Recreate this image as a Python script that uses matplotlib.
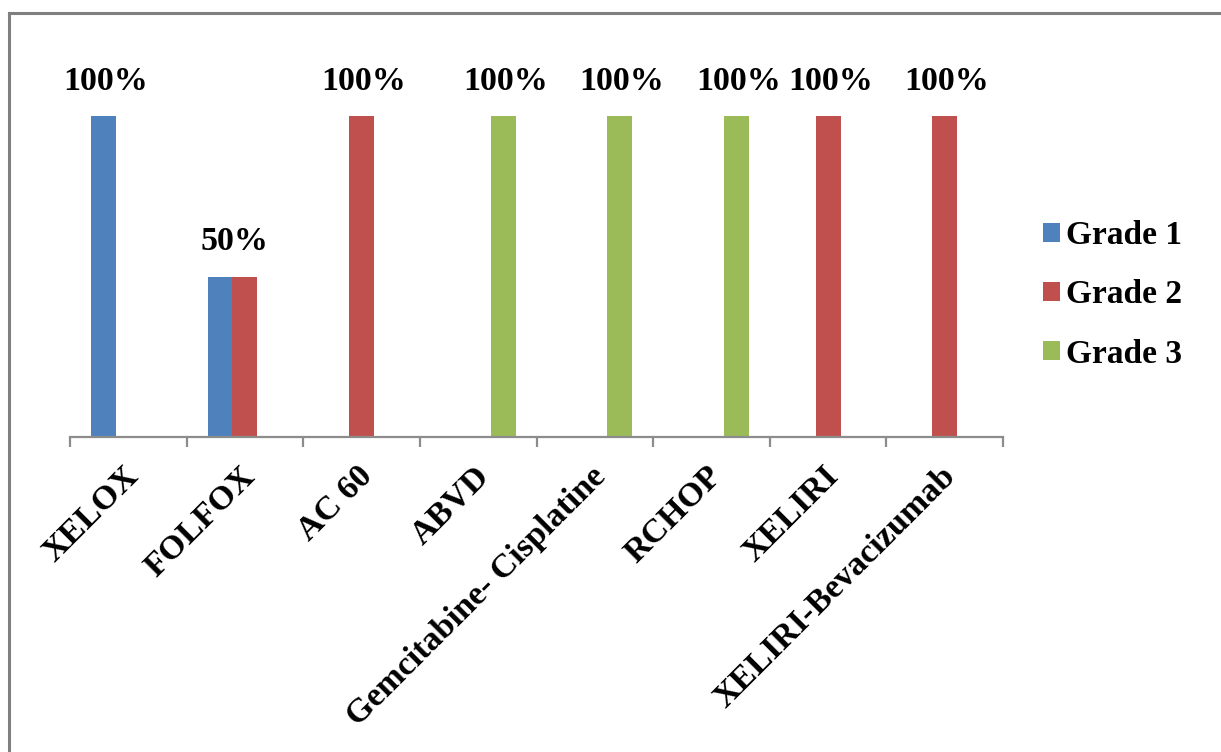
import matplotlib
matplotlib.use("Agg")
import matplotlib.pyplot as plt
from matplotlib.patches import Patch
from matplotlib.lines import Line2D
import numpy as np

plt.rcParams['font.family'] = ['Liberation Serif', 'DejaVu Serif']
plt.rcParams['font.weight'] = 'bold'

regimens = ["XELOX", "FOLFOX", "AC 60", "ABVD", "Gemcitabine- Cisplatine",
            "RCHOP", "XELIRI", "XELIRI-Bevacizumab"]
grade1 = [100, 50, 0, 0, 0, 0, 0, 0]
grade2 = [0, 50, 100, 0, 0, 0, 100, 100]
grade3 = [0, 0, 0, 100, 100, 100, 0, 0]
series_names = ["Grade 1", "Grade 2", "Grade 3"]
colors = ["#4F81BD", "#C0504D", "#9BBB59"]

W, H = 1221, 752
fig = plt.figure(figsize=(W / 100, H / 100), dpi=100)
ax = fig.add_axes([70 / W, (H - 437) / H, 933 / W, 321 / H])

x = np.arange(len(regimens))
bw = 0.214
offsets = [-bw, 0, bw]
series = [grade1, grade2, grade3]
for vals, off, col, name in zip(series, offsets, colors, series_names):
    ax.bar(x + off, vals, width=bw, color=col, label=name, zorder=2)

# one value label per category, centred over its non-zero bars
for i in range(len(regimens)):
    pos = [x[i] + off for vals, off in zip(series, offsets) if vals[i] > 0]
    vals = [vals[i] for vals in series if vals[i] > 0]
    if not pos:
        continue
    ax.text(np.mean(pos) + 0.02, max(vals) + 6, f"{max(vals)}%",
            ha="center", va="bottom", fontsize=24.5, fontweight="bold",
            clip_on=False)

ax.set_xlim(-0.5, len(regimens) - 0.5)
ax.set_ylim(0, 100)
ax.set_yticks([])
for s in ["top", "right", "left"]:
    ax.spines[s].set_visible(False)
ax.spines["bottom"].set_color("#8C8C8C")
ax.spines["bottom"].set_linewidth(1.6)

ax.set_xticks(np.arange(-0.5, len(regimens)), labels=[])
ax.tick_params(axis="x", which="major", direction="out", length=7.5,
               width=1.6, color="#8C8C8C")
ax.set_xticks(x + 0.05, minor=True)
ax.set_xticklabels(regimens, minor=True, rotation=45, ha="right",
                   va="center", rotation_mode="anchor",
                   fontsize=24.5, fontweight="bold")
ax.tick_params(axis="x", which="minor", length=0, pad=25)

handles = [Patch(facecolor=c, edgecolor="none") for c in colors]
fig.legend(handles, series_names, loc="upper left",
           bbox_to_anchor=(1013 / W, 1 - 190 / H), frameon=False,
           handlelength=0.5, handleheight=0.5,
           handletextpad=0.2, labelspacing=0.85,
           prop={"weight": "bold", "size": 24})

# frame edge along the top and left of the canvas
fig.add_artist(Line2D([9 / W, 1], [1 - 13 / H, 1 - 13 / H],
                      transform=fig.transFigure, color="#7F7F7F", lw=2.2))
fig.add_artist(Line2D([9 / W, 9 / W], [0, 1 - 13 / H],
                      transform=fig.transFigure, color="#7F7F7F", lw=2.2))

fig.savefig("out.png", dpi=100)
